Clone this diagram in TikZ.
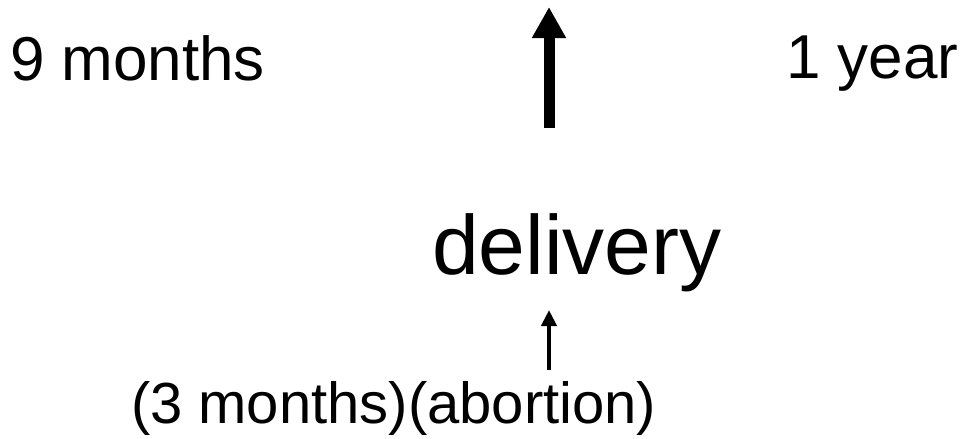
\documentclass[tikz,border=0pt]{standalone}
\usepackage{fontspec}
\setmainfont{Liberation Sans}
\usetikzlibrary{arrows.meta}
\begin{document}
\begin{tikzpicture}[x=1pt,y=1pt,
  lbl/.style={inner sep=0pt,outer sep=0pt,anchor=base west},
  bigarrow/.style={line width=11pt,-{Triangle[width=32pt,length=31pt]}},
  smallarrow/.style={line width=4.5pt,-{Triangle[width=15pt,length=16pt]}}]
\useasboundingbox (0,0) rectangle (961,-439);
\node[lbl,font=\fontsize{62}{70}\selectfont] (nine) at (10,-80) {9 months};
\node[lbl,font=\fontsize{62}{70}\selectfont] (year) at (786,-78) {1 year};
\node[lbl,font=\fontsize{84}{90}\selectfont] (deliv) at (432,-274) {delivery};
\node[lbl,font=\fontsize{58}{66}\selectfont] (bottom) at (131,-423) {(3 months)(abortion)};
\coordinate (bigS) at (549,-128);
\coordinate (bigE) at (549,-7);
\coordinate (smS) at (549,-370);
\coordinate (smE) at (549,-310);
\draw[bigarrow] (bigS) -- (bigE);
\draw[smallarrow] (smS) -- (smE);
\end{tikzpicture}
\end{document}
